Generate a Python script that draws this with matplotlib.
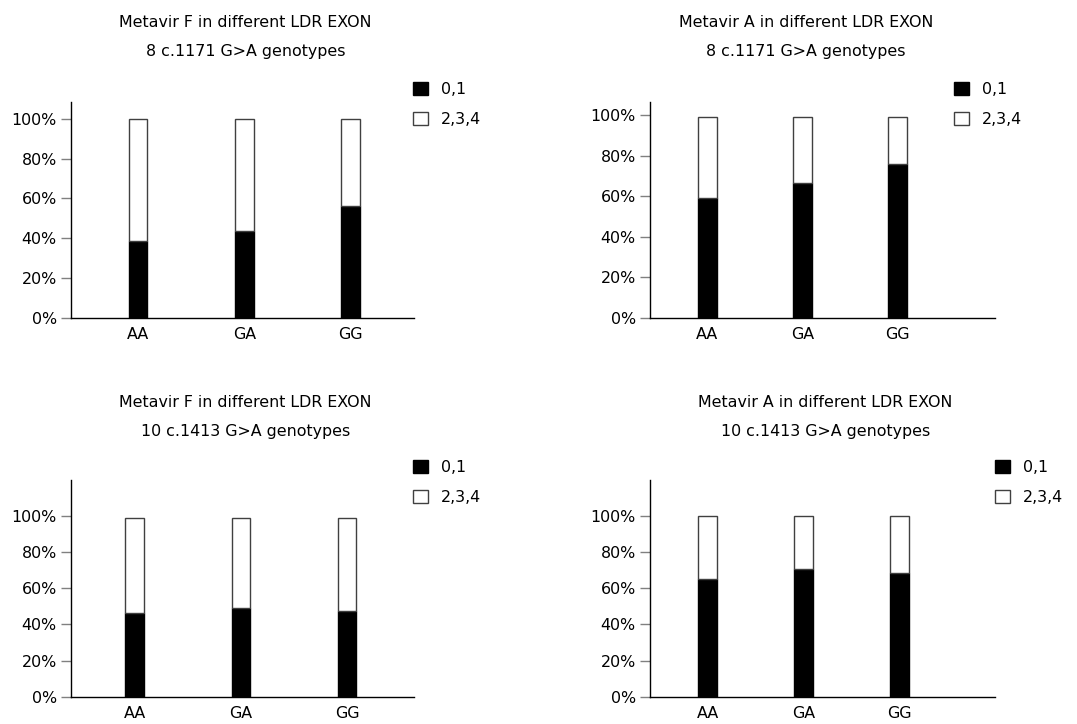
import matplotlib
matplotlib.use("Agg")
import matplotlib.pyplot as plt
from matplotlib.patches import Patch
import numpy as np

plt.rcParams['font.family'] = ['DejaVu Sans']

categories = ['AA', 'GA', 'GG']
series_names = ['0,1', '2,3,4']
ytick_labels = ['0%', '20%', '40%', '60%', '80%', '100%']
ytick_values = [0, 20, 40, 60, 80, 100]

title_line1 = [
    "Metavir F in different LDR EXON",
    "Metavir A in different LDR EXON",
    "Metavir F in different LDR EXON",
    "Metavir A in different LDR EXON",
]
title_line2 = [
    "8 c.1171 G>A genotypes",
    "8 c.1171 G>A genotypes",
    "10 c.1413 G>A genotypes",
    "10 c.1413 G>A genotypes",
]

f_ex8_01 = [38.7, 43.8, 56.4]
f_ex8_234 = [61.3, 56.2, 43.6]
a_ex8_01 = [58.9, 66.6, 75.8]
a_ex8_234 = [40.3, 32.6, 23.4]
f_ex10_01 = [46.5, 49.3, 47.4]
f_ex10_234 = [52.6, 49.8, 51.7]
a_ex10_01 = [65.4, 70.9, 68.7]
a_ex10_234 = [34.6, 29.1, 31.3]

panels_low = [f_ex8_01, a_ex8_01, f_ex10_01, a_ex10_01]
panels_high = [f_ex8_234, a_ex8_234, f_ex10_234, a_ex10_234]

W, H = 1077, 724
fig = plt.figure(figsize=(W / 100, H / 100), dpi=100)

# layout in pixels: (left, top, right, bottom)
boxes = [(71, 101.7, 414, 317.7), (650, 101.7, 995, 317.7),
         (71, 480, 414, 696.7), (650, 480, 995, 696.7)]
ylims = [108.7, 106.6, 120, 120]
xlims = [(-0.63, 2.596), (-0.603, 3.03), (-0.6, 2.63), (-0.6, 2.99)]
widths = [0.174, 0.197, 0.175, 0.2]
title_x = [245.6, 805.7, 245.5, 825.5]
title_y = [22.7, 22.7, 402.7, 402.7]
legend_xy = [(413, 81.5), (954, 81.5), (413, 459.5), (995, 459.5)]

fs = 11.4
x = np.arange(len(categories))
for i in range(4):
    l, t, r, b = boxes[i]
    ax = fig.add_axes([l / W, (H - b) / H, (r - l) / W, (b - t) / H])
    low = panels_low[i]
    high = panels_high[i]
    ax.bar(x, low, width=widths[i], color='black', edgecolor='black', linewidth=1)
    ax.bar(x, high, bottom=low, width=widths[i], color='white', edgecolor='#404040', linewidth=1)
    ax.set_xlim(*xlims[i])
    ax.set_ylim(0, ylims[i])
    ax.set_yticks(ytick_values)
    ax.set_yticklabels(ytick_labels, fontsize=fs)
    ax.set_xticks(x)
    ax.set_xticklabels(categories, fontsize=fs)
    ax.tick_params(axis='x', length=0, pad=7)
    ax.tick_params(axis='y', length=7, color='#808080', width=1, pad=3.3)
    for s in ['top', 'right']:
        ax.spines[s].set_visible(False)
    for s in ['left', 'bottom']:
        ax.spines[s].set_color('black')
        ax.spines[s].set_linewidth(1)
    fig.text(title_x[i] / W, 1 - title_y[i] / H, title_line1[i], ha='center', va='center',
             fontsize=fs)
    fig.text(title_x[i] / W, 1 - (title_y[i] + 29) / H, title_line2[i], ha='center', va='center',
             fontsize=fs)
    handles = [Patch(facecolor='black', edgecolor='black', linewidth=1),
               Patch(facecolor='white', edgecolor='#404040', linewidth=1)]
    lx, ly = legend_xy[i]
    fig.legend(handles, series_names, loc='upper left',
               bbox_to_anchor=(lx / W, 1 - ly / H), bbox_transform=fig.transFigure,
               frameon=False, fontsize=fs, handlelength=0.95, handleheight=0.95,
               handletextpad=0.8, labelspacing=0.95, borderpad=0, borderaxespad=0)

fig.savefig('out.png', dpi=100, facecolor='white')
